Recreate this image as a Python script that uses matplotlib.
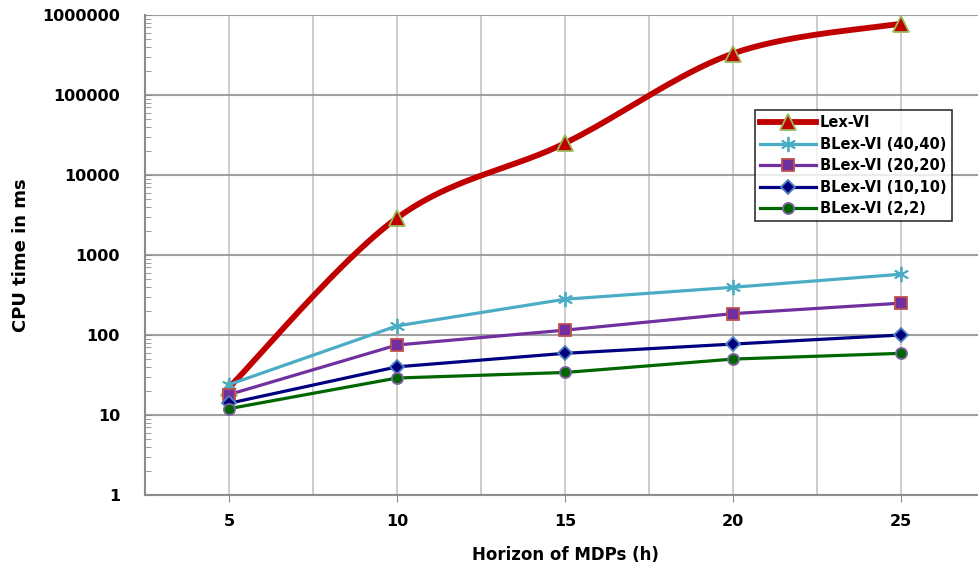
import matplotlib
matplotlib.use("Agg")
import matplotlib.pyplot as plt
from matplotlib.ticker import FixedLocator, LogLocator, NullFormatter
import numpy as np

horizon = [5, 10, 15, 20, 25]
lex_vi = [22, 2900, 25000, 330000, 780000]
blex_40 = [24, 130, 280, 395, 575]
blex_20 = [18, 75, 115, 185, 250]
blex_10 = [14, 40, 59, 77, 100]
blex_2 = [12, 29, 34, 50, 59]
y_ticks = [1, 10, 100, 1000, 10000, 100000, 1000000]


def smooth(xs, ys, n=40):
    # Excel style smoothed line (Catmull-Rom) in x / log10(y) space
    x = np.asarray(xs, float)
    y = np.log10(np.asarray(ys, float))
    px = np.concatenate([[x[0]], x, [x[-1]]])
    py = np.concatenate([[y[0]], y, [y[-1]]])
    outx, outy = [], []
    for i in range(1, len(px) - 2):
        p0, p1, p2, p3 = (np.array([px[j], py[j]]) for j in range(i - 1, i + 3))
        c1 = p1 + (p2 - p0) / 6
        c2 = p2 - (p3 - p1) / 6
        t = np.linspace(0, 1, n)[:, None]
        b = ((1 - t) ** 3) * p1 + 3 * ((1 - t) ** 2) * t * c1 + 3 * (1 - t) * t ** 2 * c2 + t ** 3 * p2
        outx.extend(b[:, 0])
        outy.extend(b[:, 1])
    return np.array(outx), 10 ** np.array(outy)


series = [
    ("Lex-VI", lex_vi, "#C00000", 4.2, "^", 12, "#C00000", "#9BBB59", True),
    ("BLex-VI (40,40)", blex_40, "#4BACC6", 2.3, (6, 2, 0), 11, "#4BACC6", "#4BACC6", False),
    ("BLex-VI (20,20)", blex_20, "#7030A0", 2.3, "s", 8, "#7030A0", "#C0504D", False),
    ("BLex-VI (10,10)", blex_10, "#000080", 2.3, "D", 7, "#000080", "#4F81BD", False),
    ("BLex-VI (2,2)", blex_2, "#006600", 2.3, "o", 8, "#006600", "#8064A2", False),
]

fig = plt.figure(figsize=(9.79, 5.67), dpi=100)
ax = fig.add_axes([145 / 979, 72 / 567, 840 / 979, 480 / 567])

handles = []
for label, vals, col, lw, mk, ms, fc, ec, smoothed in series:
    if smoothed:
        sx, sy = smooth(horizon, vals)
    else:
        sx, sy = horizon, vals
    ax.plot(sx, sy, color=col, lw=lw, solid_capstyle="round", zorder=3)
    ax.plot(horizon, vals, ls="none", marker=mk, ms=ms, mfc=fc, mec=ec, mew=1.3, zorder=4)
    h, = ax.plot([], [], color=col, lw=lw, marker=mk, ms=ms, mfc=fc, mec=ec, mew=1.3, label=label)
    handles.append(h)

ax.set_yscale("log")
ax.set_ylim(1, 1000000)
ax.set_xlim(2.5, 27.5)

ax.xaxis.set_major_locator(FixedLocator(horizon))
ax.xaxis.set_minor_locator(FixedLocator([7.5, 12.5, 17.5, 22.5]))
ax.yaxis.set_major_locator(FixedLocator(y_ticks))
ax.yaxis.set_minor_locator(LogLocator(base=10, subs=np.arange(2, 10), numticks=20))
ax.yaxis.set_minor_formatter(NullFormatter())
ax.set_yticklabels([str(v) for v in y_ticks])
ax.set_xticklabels([str(h) for h in horizon])

ax.grid(True, which="major", axis="y", color="#A0A0A0", lw=1.5, zorder=0)
ax.grid(True, which="both", axis="x", color="#C8C8C8", lw=1.3, zorder=0)
ax.set_axisbelow(True)

for s in ["top", "right"]:
    ax.spines[s].set_visible(False)
for s in ["left", "bottom"]:
    ax.spines[s].set_color("#8C8C8C")
    ax.spines[s].set_linewidth(1.5)

ax.tick_params(axis="x", which="major", length=5, color="#8C8C8C", pad=9, labelsize=11.5)
ax.tick_params(axis="x", which="minor", length=0)
ax.tick_params(axis="y", which="major", direction="in", length=5, color="#8C8C8C", pad=18, labelsize=11.5)
ax.tick_params(axis="y", which="minor", direction="in", length=4, color="#8C8C8C")
for t in ax.get_xticklabels() + ax.get_yticklabels():
    t.set_fontweight("bold")

ax.set_xlabel("Horizon of MDPs (h)", fontsize=12, fontweight="bold", labelpad=12)
ax.set_ylabel("CPU time in ms", fontsize=13, fontweight="bold", labelpad=9)

leg = ax.legend(handles=handles, loc="upper left", bbox_to_anchor=(755 / 979, 1 - 110 / 567),
                bbox_transform=fig.transFigure, frameon=True, fancybox=False,
                edgecolor="black", fontsize=10.5, handlelength=3.8, labelspacing=0.45,
                borderpad=0.35, handletextpad=0.3, borderaxespad=0)
leg.get_frame().set_linewidth(1.2)
for t in leg.get_texts():
    t.set_fontweight("bold")

fig.savefig("out.png", dpi=100)
